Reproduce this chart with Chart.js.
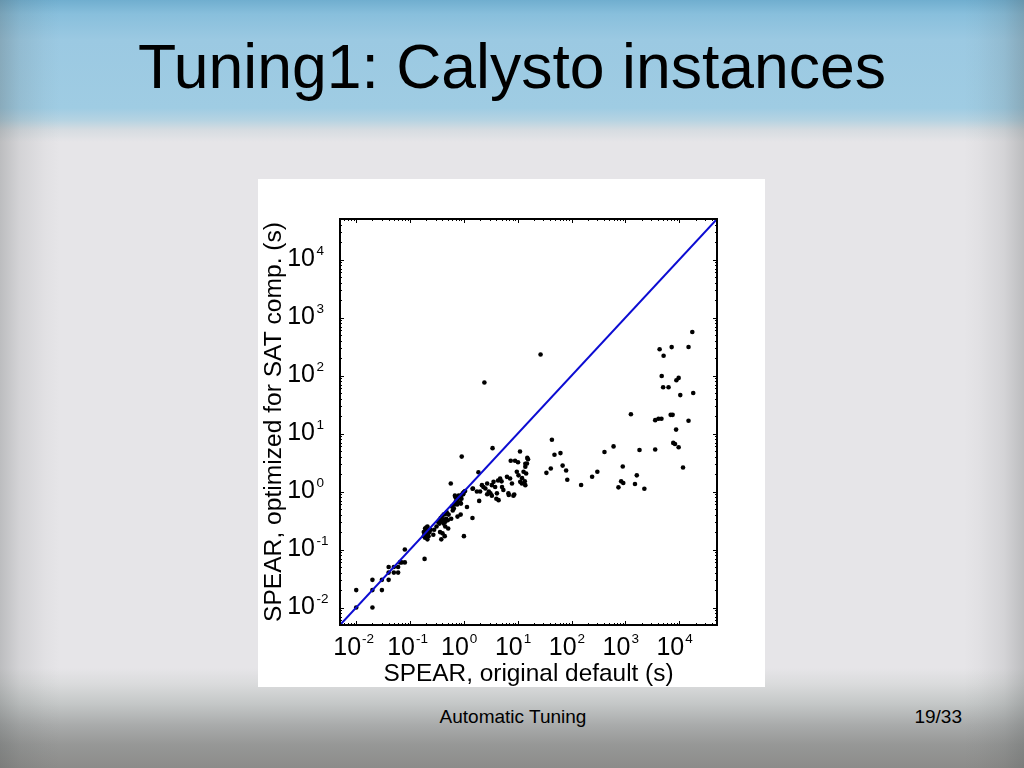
<!DOCTYPE html>
<html>
<head>
<meta charset="utf-8">
<script src="https://cdn.jsdelivr.net/npm/chart.js@4.4.1/dist/chart.umd.min.js"></script>
<style>
  html, body { margin:0; padding:0; }
  body {
    width:1024px; height:768px; overflow:hidden; position:relative;
    font-family:"Liberation Sans", Arial, sans-serif;
    background:
      linear-gradient(to right, rgba(80,85,85,0.28) 0px, rgba(80,85,85,0.12) 20px, rgba(80,85,85,0.03) 45px, rgba(80,85,85,0) 60px, rgba(80,85,85,0) 964px, rgba(80,85,85,0.03) 979px, rgba(80,85,85,0.12) 1004px, rgba(80,85,85,0.28) 1024px),
      linear-gradient(to bottom, #70aecf 0px, #88bfdc 14px, #9bc9e2 40px, #9fcce3 108px, #b5d3e2 120px, #d6dce1 130px, #e6e5e8 142px, #e6e5e8 668px, #dadbdc 684px, #c4c7c7 704px, #a9abab 725px, #969796 745px, #8c8c8a 768px);
  }
  #title {
    position:absolute; left:0; top:35px; width:1024px; text-align:center;
    font-size:62.5px; line-height:62px; color:#000;
  }
  #box {
    position:absolute; left:258px; top:179px; width:507px; height:508px; background:#fff;
  }
  #footer-center {
    position:absolute; left:0; width:1026px; top:707px; text-align:center;
    font-size:19px; line-height:20px; color:#000;
  }
  #footer-right {
    position:absolute; left:900px; width:62px; top:707px; text-align:right;
    font-size:19px; line-height:20px; color:#000;
  }
</style>
</head>
<body>
<div id="title">Tuning1: Calysto instances</div>
<div id="box"><canvas id="c" width="507" height="508"></canvas></div>
<div id="footer-center">Automatic Tuning</div>
<div id="footer-right">19/33</div>
<script>
// ---- data (seconds) ----
const defaultTimes = [
  // small instances
  0.01,0.01,0.02,0.02,0.02,0.03,0.03,0.04,0.04,0.04,0.05,0.06,0.06,0.065,0.07,0.08,0.08,0.05,
  // 0.18-0.25 cluster
  0.186,0.18,0.19,0.2,0.2,0.21,0.19,0.21,0.22,0.2,0.23,0.22,0.21,0.19,0.2,0.18,0.24,
  // 0.27-0.55
  0.27,0.28,0.31,0.33,0.35,0.37,0.39,0.42,0.45,0.35,0.4,0.43,0.45,0.47,0.5,0.38,0.44,0.51,0.45,0.42,0.4,0.36,0.52,0.48,
  // 0.55-1.1
  0.57,0.58,0.65,0.6,0.62,0.67,0.7,0.72,0.75,0.8,0.85,0.9,0.95,1.0,1.05,0.7,0.8,0.75,0.85,0.88,0.76,0.87,0.91,1.0,0.97,0.68,0.78,0.9,
  // 1.1-20
  1.14,1.44,1.45,1.86,1.92,1.47,1.74,2.0,2.16,2.3,2.5,2.7,2.9,3.1,3.3,3.55,3.8,4.1,4.4,4.7,5.1,5.4,6.3,6.7,7.2,7.8,8.6,9.6,10.3,11.1,11.9,12.8,13.8,13.8,14.3,14.8,
  2.4,3.4,11,7.4,8.9,10.1,15,15.5,13.8,2.7,3.3,4.0,5.0,4.3,6.8,8.3,13.5,12,
  // 20-100
  26.5,34,41,43,48,62,68,79,83,
  // 100-3000
  150,240,300,407,600,740,830,910,890,1260,1500,1620,1820,2240,
  // > 3000
  3560,3560,4100,4650,4300,4700,5000,5100,6300,7200,6900,7500,7700,8300,8700,8800,9700,9700,10400,11700,14800,14800,17400,18100
];
const tunedTimes = [
  0.02,0.01,0.03,0.02,0.01,0.02,0.03,0.05,0.03,0.04,0.04,0.05,0.04,0.06,0.06,0.06,0.1,0.05,
  0.069,0.17,0.19,0.2,0.22,0.25,0.16,0.18,0.21,0.18,0.2,0.17,0.15,0.23,0.24,0.2,0.22,
  0.18,0.22,0.25,0.3,0.32,0.35,0.37,0.4,0.41,0.28,0.3,0.33,0.3,0.34,0.32,0.15,0.17,0.23,0.25,0.28,0.19,0.2,0.4,0.44,
  1.38,0.34,0.51,0.55,0.47,0.6,0.65,0.7,0.72,0.78,0.82,0.87,0.93,0.98,1.02,0.8,0.85,0.6,0.65,0.62,0.37,0.4,4.0,0.17,0.9,0.85,0.8,0.75,
  0.54,0.35,1.12,2.15,0.69,1.13,1.0,1.0,1.29,1.2,1.13,1.38,1.0,0.93,1.29,1.47,1.2,0.93,0.71,1.68,1.2,1.06,1.79,0.93,1.68,1.38,0.89,2.19,1.9,1.47,1.38,2.19,2.67,1.29,2.05,3.05,
  76,5.6,4.9,3.4,3.4,3.2,3.8,3.6,3.0,0.9,0.85,0.75,1.5,1.55,0.87,0.85,1.5,1.7,
  230,2.1,2.5,7.8,4.3,4.6,2.8,2.3,1.6,
  1.3,1.8,2.2,4.8,6.0,1.18,1.5,1.4,2.7,21.5,1.35,1.9,5.2,1.12,
  17,5.3,18,18,284,98,63,220,63,309,21,21,6.9,6.6,11.7,83,91,5.8,46,2.6,310,16.6,562,50
];
const decadeTicks = [0.01, 0.1, 1, 10, 100, 1000, 10000];
const axisRange = [0.005, 50000];
const diagonalEnds = [0.005, 50000];

const points = defaultTimes.map((x, i) => ({ x: x, y: tunedTimes[i] }));
const diagonal = diagonalEnds.map(v => ({ x: v, y: v }));

Chart.defaults.font.family = '"Liberation Sans", Arial, sans-serif';
Chart.defaults.color = '#000';

const TICK_SIZE = 25;
const LABEL_FONT = TICK_SIZE + 'px "Liberation Sans", Arial, sans-serif';
const EXP_FONT = '13.5px "Liberation Sans", Arial, sans-serif';
const X_LABEL_OFFSET = -9;
const Y_PAD = 25;

const framePlugin = {
  id: 'frame',
  afterDraw(chart) {
    const { ctx, chartArea: a } = chart;
    const xs = chart.scales.x, ys = chart.scales.y;
    ctx.save();
    ctx.strokeStyle = '#000';
    ctx.lineWidth = 1;
    const tickVals = [];
    for (let d = -3; d <= 4; d++) {
      for (let m = 1; m <= 9; m++) {
        const v = m * Math.pow(10, d);
        if (v >= axisRange[0] && v <= axisRange[1]) tickVals.push({ v, major: m === 1 });
      }
    }
    ctx.beginPath();
    tickVals.forEach(t => {
      const len = t.major ? 4 : 2;
      const px = Math.round(xs.getPixelForValue(t.v)) + 0.5;
      ctx.moveTo(px, a.bottom); ctx.lineTo(px, a.bottom - len);
      ctx.moveTo(px, a.top); ctx.lineTo(px, a.top + len);
      const py = Math.round(ys.getPixelForValue(t.v)) + 0.5;
      ctx.moveTo(a.left, py); ctx.lineTo(a.left + len, py);
      ctx.moveTo(a.right, py); ctx.lineTo(a.right - len, py);
    });
    ctx.stroke();
    ctx.lineWidth = 2;
    ctx.strokeRect(a.left, a.top, a.right - a.left, a.bottom - a.top);
    // exponents of tick labels
    ctx.fillStyle = '#000';
    ctx.font = LABEL_FONT;
    const w10 = ctx.measureText('10').width;
    ctx.font = EXP_FONT;
    ctx.textAlign = 'left';
    ctx.textBaseline = 'alphabetic';
    xs.ticks.forEach(t => {
      const e = Math.round(Math.log10(t.value));
      const px = xs.getPixelForValue(t.value);
      ctx.fillText(String(e), px + X_LABEL_OFFSET + w10 / 2 + 1, a.bottom + 18);
    });
    ys.ticks.forEach(t => {
      const e = Math.round(Math.log10(t.value));
      const py = ys.getPixelForValue(t.value);
      ctx.fillText(String(e), a.left - Y_PAD + 1.5, py - 5);
    });
    ctx.restore();
  }
};

new Chart(document.getElementById('c'), {
  type: 'scatter',
  data: {
    datasets: [
      { label: 'equal', data: diagonal, showLine: true, borderColor: '#0c0cd2', borderWidth: 2, pointRadius: 0, order: 0 },
      { label: 'instances', data: points, backgroundColor: '#000', borderWidth: 0, pointRadius: 2.3, order: 1 }
    ]
  },
  options: {
    responsive: false,
    animation: false,
    devicePixelRatio: 1,
    layout: { padding: { top: 38, right: 48, left: 0, bottom: 0 } },
    plugins: { legend: { display: false }, tooltip: { enabled: false } },
    scales: {
      x: {
        type: 'logarithmic', position: 'bottom',
        min: axisRange[0], max: axisRange[1],
        afterBuildTicks: s => { s.ticks = decadeTicks.map(v => ({ value: v })); },
        afterFit: s => { s.height = 62; },
        grid: { display: false, drawTicks: false },
        border: { display: false },
        ticks: { callback: () => '10', font: { size: TICK_SIZE }, color: '#000', padding: 8, labelOffset: X_LABEL_OFFSET, maxRotation: 0, autoSkip: false },
        title: { display: true, text: 'SPEAR, original default (s)', font: { size: 24.4, lineHeight: 1.03 }, padding: 0, color: '#000' }
      },
      y: {
        type: 'logarithmic', position: 'left',
        min: axisRange[0], max: axisRange[1],
        afterBuildTicks: s => { s.ticks = decadeTicks.map(v => ({ value: v })); },
        afterFit: s => { s.width = 82; },
        grid: { display: false, drawTicks: false },
        border: { display: false },
        ticks: { callback: () => '10', font: { size: TICK_SIZE }, color: '#000', padding: Y_PAD, autoSkip: false },
        title: { display: true, text: 'SPEAR, optimized for SAT comp. (s)', font: { size: 24.6, lineHeight: 1 }, padding: { top: 4, bottom: 0 }, color: '#000' }
      }
    }
  },
  plugins: [framePlugin]
});
</script>
</body>
</html>
